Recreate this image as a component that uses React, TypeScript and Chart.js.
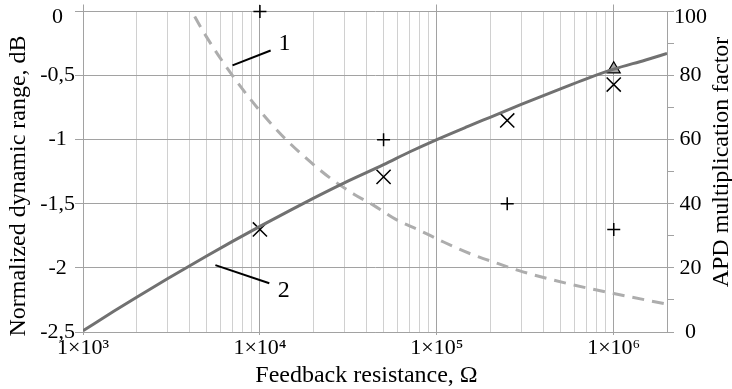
import React, { useEffect, useRef } from "react";
import { Chart, registerables } from "chart.js";

Chart.register(...registerables);

// ---- Data ----
// Curve 2: normalized dynamic range (left axis, dB) vs feedback resistance (Ω)
const rangeR = [1e3, 1.5e3, 2e3, 3e3, 5e3, 7e3, 1e4, 1.5e4, 2e4, 3e4, 5e4, 7e4, 1e5, 1.5e5, 2e5, 3e5, 5e5, 7e5, 1e6, 1.5e6, 2e6];
const rangeDb = [-2.49, -2.337, -2.231, -2.085, -1.907, -1.793, -1.676, -1.547, -1.458, -1.337, -1.195, -1.096, -0.999, -0.896, -0.825, -0.725, -0.603, -0.525, -0.45, -0.38, -0.328];

// Curve 1: APD multiplication factor (right axis) vs feedback resistance
const gainR = [3.8e3, 4.13e3, 5e3, 7e3, 1e4, 1.35e4, 1.8e4, 2.5e4, 3.4e4, 4.4e4, 5.8e4, 8e4, 1.1e5, 1.55e5, 2.1e5, 3.1e5, 5.6e5, 1e6, 2e6];
const gainM = [104, 100, 92, 80, 69, 61, 54.5, 48, 43, 39.5, 35.3, 31.7, 28, 24.4, 21.8, 18.7, 15, 12, 8.7];

// Measured points
const plusR = [1e4, 5e4, 2.5e5, 1e6];
const plusGain = [100, 60, 40, 32];
const crossR = [1e4, 5e4, 2.5e5, 1e6];
const crossDb = [-1.7, -1.29, -0.85, -0.57];
const triR = [1e6];
const triDb = [-0.45];

// Callouts (data coordinates on x / left y axis)
const calloutText = ["1", "2"];
const calloutFromR = [7.0e3, 5.6e3];
const calloutFromDb = [-0.42, -1.978];
const calloutToR = [1.15e4, 1.13e4];
const calloutToDb = [-0.304, -2.12];
const calloutLabelR = [1.377e4, 1.365e4];
const calloutLabelDb = [-0.3, -2.23];

// Tick labels
const decades = [1e3, 1e4, 1e5, 1e6];
const decadeLabels = ["1×10³", "1×10⁴", "1×10⁵", "1×10⁶"];
const minorMultipliers = [2, 3, 4, 5, 6, 7, 8, 9];

const xTitle = "Feedback resistance, Ω";
const yTitle = "Normalized dynamic range, dB";
const y2Title = "APD multiplication factor";

// ---- Styles ----
const SERIF = "'Liberation Serif', 'Times New Roman', Times, serif";
const MAJOR = "#a2a2a2";
const MINOR = "#d0d0d0";
const CLEAR = "rgba(0,0,0,0)";

const xTickValues: number[] = [];
decades.forEach((d, i) => {
  xTickValues.push(d);
  if (i < decades.length - 1) minorMultipliers.forEach((m) => xTickValues.push(m * d));
});

const isDecade = (v: number | undefined) =>
  v !== undefined && decades.some((d) => Math.abs(v - d) / d < 1e-9);

const decadeLabel = (v: number) => {
  const i = decades.findIndex((d) => Math.abs(v - d) / d < 1e-9);
  return i >= 0 ? decadeLabels[i] : "";
};

// top-most tick label sits a little lower than its tick, as in the original
const tickFont = (topValue: number) => (c: any) => ({
  family: SERIF,
  size: 22,
  lineHeight: c.tick && Math.abs(c.tick.value - topValue) < 1e-9 ? 0.5 : 1,
});

const overlayPlugin = {
  id: "overlay",
  afterDatasetsDraw(chart: any) {
    const { ctx, scales } = chart;
    const x = scales.x;
    const y = scales.y;
    ctx.save();
    ctx.strokeStyle = "#000";
    ctx.lineWidth = 2;
    ctx.lineCap = "butt";
    calloutText.forEach((t, i) => {
      ctx.beginPath();
      ctx.moveTo(x.getPixelForValue(calloutFromR[i]), y.getPixelForValue(calloutFromDb[i]));
      ctx.lineTo(x.getPixelForValue(calloutToR[i]), y.getPixelForValue(calloutToDb[i]));
      ctx.stroke();
      ctx.fillStyle = "#000";
      ctx.font = `24px ${SERIF}`;
      ctx.textAlign = "center";
      ctx.textBaseline = "alphabetic";
      ctx.fillText(t, x.getPixelForValue(calloutLabelR[i]), y.getPixelForValue(calloutLabelDb[i]));
    });

    // axis titles
    ctx.fillStyle = "#000";
    ctx.font = `24px ${SERIF}`;
    ctx.textAlign = "center";
    ctx.textBaseline = "alphabetic";
    ctx.fillText(xTitle, 366.5, 381.5);

    ctx.save();
    ctx.translate(25, 186);
    ctx.rotate(-Math.PI / 2);
    ctx.fillText(yTitle, 0, 0);
    ctx.restore();

    ctx.save();
    ctx.translate(728, 162);
    ctx.rotate(-Math.PI / 2);
    ctx.fillText(y2Title, 0, 0);
    ctx.restore();

    ctx.restore();
  },
};

export default function App() {
  const ref = useRef<HTMLCanvasElement | null>(null);

  useEffect(() => {
    if (!ref.current) return;
    const chart = new Chart(ref.current, {
      type: "line",
      data: {
        datasets: [
          {
            label: "Dynamic range",
            data: rangeR.map((r, i) => ({ x: r, y: rangeDb[i] })),
            xAxisID: "x",
            yAxisID: "y",
            borderColor: "#717171",
            borderWidth: 3,
            pointRadius: 0,
            cubicInterpolationMode: "monotone",
            fill: false,
          },
          {
            label: "APD gain",
            data: gainR.map((r, i) => ({ x: r, y: gainM[i] })),
            xAxisID: "x",
            yAxisID: "y2",
            borderColor: "#adadad",
            borderWidth: 3,
            borderDash: [12, 8],
            pointRadius: 0,
            cubicInterpolationMode: "monotone",
            fill: false,
          },
          {
            label: "Measured gain",
            data: plusR.map((r, i) => ({ x: r, y: plusGain[i] })),
            xAxisID: "x",
            yAxisID: "y2",
            showLine: false,
            pointStyle: "cross",
            pointRadius: 6.5,
            pointBorderColor: "#000",
            pointBorderWidth: 1.5,
            clip: false,
          },
          {
            label: "Measured range",
            data: crossR.map((r, i) => ({ x: r, y: crossDb[i] })),
            xAxisID: "x",
            yAxisID: "y",
            showLine: false,
            pointStyle: "crossRot",
            pointRadius: 10,
            pointBorderColor: "#000",
            pointBorderWidth: 1.5,
            clip: false,
          },
          {
            label: "Triangle",
            data: triR.map((r, i) => ({ x: r, y: triDb[i] })),
            xAxisID: "x",
            yAxisID: "y",
            showLine: false,
            pointStyle: "triangle",
            pointRadius: 7.5,
            pointBackgroundColor: "#a5a5a5",
            pointBorderColor: "#000",
            pointBorderWidth: 1.2,
            clip: false,
          },
        ],
      },
      options: {
        responsive: false,
        animation: false,
        events: [],
        layout: { padding: { top: 4, left: 0, right: 0, bottom: 0 } },
        plugins: { legend: { display: false }, tooltip: { enabled: false } },
        scales: {
          x: {
            type: "logarithmic",
            position: "bottom",
            min: 1e3,
            max: 2e6,
            afterBuildTicks: (s: any) => {
              s.ticks = xTickValues.map((v) => ({ value: v }));
            },
            afterFit: (s: any) => {
              s.height = 57;
              s.paddingLeft = 0;
              s.paddingRight = 0;
            },
            grid: {
              color: (c: any) => (isDecade(c.tick?.value) ? MAJOR : MINOR),
              tickColor: (c: any) => (isDecade(c.tick?.value) ? MAJOR : CLEAR),
              tickLength: 3,
              lineWidth: 1,
            },
            border: { display: true, color: MAJOR },
            ticks: {
              autoSkip: false,
              maxRotation: 0,
              minRotation: 0,
              padding: 2,
              color: "#000",
              font: { family: SERIF, size: 22, lineHeight: 1 },
              callback: (v: any) => decadeLabel(Number(v)),
            },
          },
          xTop: {
            type: "logarithmic",
            position: "top",
            min: 1e3,
            max: 2e6,
            afterBuildTicks: (s: any) => {
              s.ticks = xTickValues.map((v) => ({ value: v }));
            },
            afterFit: (s: any) => {
              s.height = 7;
              s.paddingLeft = 0;
              s.paddingRight = 0;
            },
            grid: {
              drawOnChartArea: false,
              tickLength: 7,
              color: (c: any) => (isDecade(c.tick?.value) ? MAJOR : CLEAR),
              tickColor: (c: any) => (isDecade(c.tick?.value) ? MAJOR : CLEAR),
            },
            border: { display: false },
            ticks: { display: false },
          },
          y: {
            type: "linear",
            position: "left",
            min: -2.5,
            max: 0,
            afterFit: (s: any) => {
              s.width = 83;
              s.paddingTop = 0;
              s.paddingBottom = 0;
            },
            grid: { color: MAJOR, tickColor: MAJOR, tickLength: 8, lineWidth: 1 },
            border: { display: true, color: MAJOR },
            ticks: {
              stepSize: 0.5,
              padding: 0,
              crossAlign: "center",
              autoSkip: false,
              color: "#000",
              font: tickFont(0),
              callback: (v: any) => {
                const s = String(Math.round(Number(v) * 10) / 10).replace(".", ",");
                return Math.abs(Number(v)) < 1e-9 ? ["", s] : s;
              },
            },
          },
          y2: {
            type: "linear",
            position: "right",
            min: 0,
            max: 100,
            afterFit: (s: any) => {
              s.width = 65;
              s.paddingTop = 0;
              s.paddingBottom = 0;
            },
            grid: { drawOnChartArea: false, color: MAJOR, tickColor: MAJOR, tickLength: 7 },
            border: { display: true, color: MAJOR },
            ticks: {
              stepSize: 10,
              padding: 0,
              crossAlign: "center",
              autoSkip: false,
              color: "#000",
              font: tickFont(100),
              callback: (v: any) => {
                const n = Math.round(Number(v));
                if (n % 20 !== 0) return "";
                return n === 100 ? ["", "100"] : String(n);
              },
            },
          },
        },
      } as any,
      plugins: [overlayPlugin],
    });
    return () => chart.destroy();
  }, []);

  return (
    <div style={{ position: "fixed", left: 0, top: 0, width: 732, height: 389, background: "#fff" }}>
      <canvas ref={ref} width={732} height={389} style={{ display: "block" }} />
    </div>
  );
}
